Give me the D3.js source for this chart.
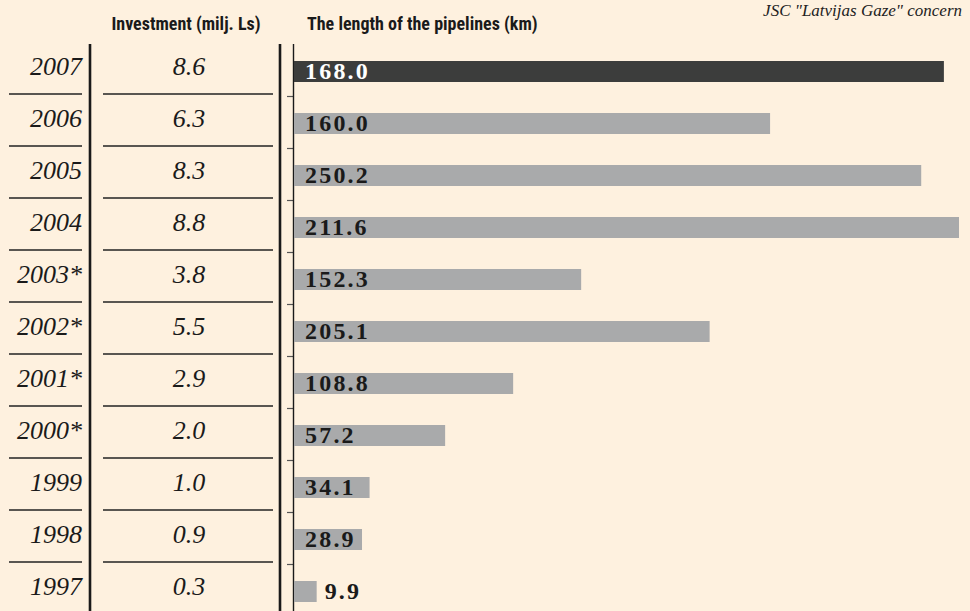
<!DOCTYPE html>
<html>
<head>
<meta charset="utf-8">
<script src="https://cdn.jsdelivr.net/npm/d3@7"></script>
<style>
  body { margin: 0; background: #fef1df; }
  svg { display: block; }
  .serif { font-family: "Liberation Serif", "DejaVu Serif", serif; }
  .head { font-family: "Liberation Sans Narrow", "Roboto Condensed", "Liberation Sans", sans-serif; font-weight: bold; font-size: 18px; fill: #1a1a1a; }
</style>
</head>
<body>
<div id="chart"></div>
<script>
// data, newest year first as in the table
const years = ['2007', '2006', '2005', '2004', '2003*', '2002*', '2001*', '2000*', '1999', '1998', '1997']
const investment = [8.6, 6.3, 8.3, 8.8, 3.8, 5.5, 2.9, 2.0, 1.0, 0.9, 0.3]
const pipelineKm = ['168.0', '160.0', '250.2', '211.6', '152.3', '205.1', '108.8', '57.2', '34.1', '28.9', '9.9']
const highlightYear = '2007'

const W = 970, H = 611
const rows = years.map((y, i) => ({ year: y, inv: investment[i], km: pipelineKm[i] }))

const svg = d3.select('#chart').append('svg')
    .attr('width', W)
    .attr('height', H)

svg.append('rect').attr('width', W).attr('height', H).attr('fill', '#fef1df')

const y = d3.scaleBand()
    .domain(years)
    .range([42, 42 + years.length * 52])

const x = d3.scaleLinear()
    .domain([0, d3.max(investment)])
    .range([294, 959])

// source note, top right
svg.append('text')
    .attr('class', 'serif')
    .attr('x', 962).attr('y', 16)
    .attr('text-anchor', 'end')
    .attr('font-style', 'italic')
    .attr('font-size', 17)
    .attr('fill', '#222')
    .text('JSC "Latvijas Gaze" concern')

// column headers
svg.append('text').attr('class', 'head')
    .attr('x', 186).attr('y', 30)
    .attr('text-anchor', 'middle')
    .text('Investment (milj. Ls)')
svg.append('text').attr('class', 'head')
    .attr('x', 307).attr('y', 30)
    .text('The length of the pipelines (km)')

// row separators (not under the last row)
const seps = rows.slice(0, -1)
svg.selectAll('line.sepYear').data(seps).enter().append('line')
    .attr('class', 'sepYear')
    .attr('x1', 9).attr('x2', 82)
    .attr('y1', d => y(d.year) + y.bandwidth())
    .attr('y2', d => y(d.year) + y.bandwidth())
    .attr('stroke', '#222').attr('stroke-width', 1.3)
svg.selectAll('line.sepInv').data(seps).enter().append('line')
    .attr('class', 'sepInv')
    .attr('x1', 103).attr('x2', 273)
    .attr('y1', d => y(d.year) + y.bandwidth())
    .attr('y2', d => y(d.year) + y.bandwidth())
    .attr('stroke', '#222').attr('stroke-width', 1.3)

// ticks on the bar axis
svg.selectAll('line.tick').data(seps).enter().append('line')
    .attr('class', 'tick')
    .attr('x1', 287).attr('x2', 294)
    .attr('y1', d => y(d.year) + y.bandwidth() + 2.5)
    .attr('y2', d => y(d.year) + y.bandwidth() + 2.5)
    .attr('stroke', '#555').attr('stroke-width', 1.2)

// vertical rules
svg.append('line').attr('x1', 90).attr('x2', 90).attr('y1', 44).attr('y2', H)
    .attr('stroke', '#1a1a1a').attr('stroke-width', 2.6)
svg.append('line').attr('x1', 280).attr('x2', 280).attr('y1', 44).attr('y2', H)
    .attr('stroke', '#1a1a1a').attr('stroke-width', 2.6)
svg.append('line').attr('x1', 293.5).attr('x2', 293.5).attr('y1', 44).attr('y2', H)
    .attr('stroke', '#1a1a1a').attr('stroke-width', 1.4)

// year labels
svg.selectAll('text.year').data(rows).enter().append('text')
    .attr('class', 'year serif')
    .attr('x', 82)
    .attr('y', d => y(d.year) + 33)
    .attr('text-anchor', 'end')
    .attr('font-style', 'italic')
    .attr('font-size', 26)
    .attr('fill', '#1a1a1a')
    .text(d => d.year)

// investment values
svg.selectAll('text.inv').data(rows).enter().append('text')
    .attr('class', 'inv serif')
    .attr('x', 189)
    .attr('y', d => y(d.year) + 33)
    .attr('text-anchor', 'middle')
    .attr('font-style', 'italic')
    .attr('font-size', 26)
    .attr('fill', '#1a1a1a')
    .text(d => d.inv.toFixed(1))

// bars
svg.selectAll('rect.bar').data(rows).enter().append('rect')
    .attr('class', 'bar')
    .attr('x', x(0))
    .attr('y', d => y(d.year) + 19)
    .attr('width', d => x(d.inv) - x(0))
    .attr('height', 21)
    .attr('fill', d => d.year === highlightYear ? '#3c3d3c' : '#a9aaab')

// pipeline length labels: inside the bar, or just after it when the bar is short
svg.selectAll('text.km').data(rows).enter().append('text')
    .attr('class', 'km serif')
    .attr('x', d => (x(d.inv) - x(0) > 60 ? x(0) + 11 : x(d.inv) + 8))
    .attr('y', d => y(d.year) + 37)
    .attr('font-weight', 'bold')
    .attr('font-size', 24)
    .attr('letter-spacing', 2.2)
    .style('font-variant-numeric', 'oldstyle-nums')
    .attr('fill', d => d.year === highlightYear ? '#fff' : '#1a1a1a')
    .text(d => d.km)
</script>
</body>
</html>
